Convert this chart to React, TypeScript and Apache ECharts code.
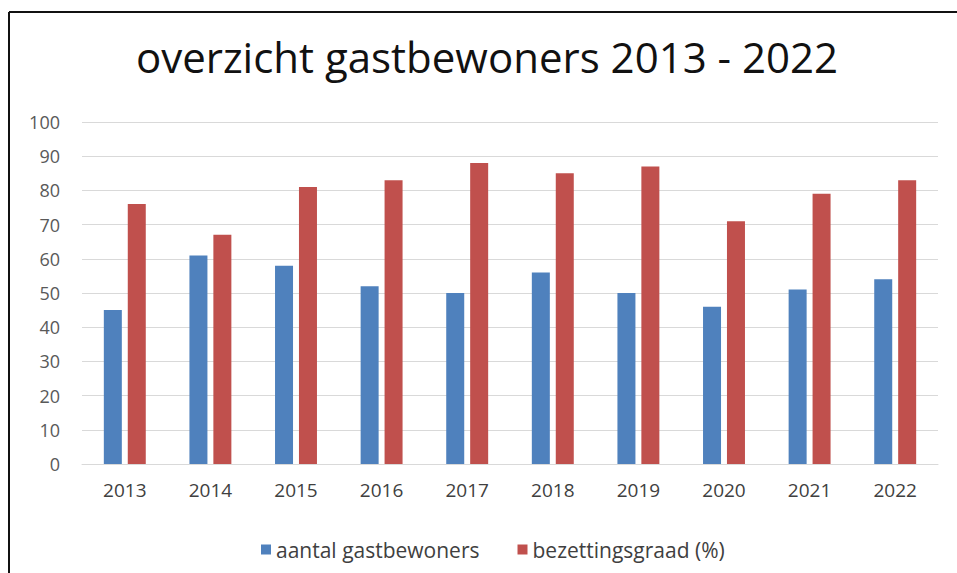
import React, { useEffect, useRef } from "react";
import * as echarts from "echarts";

const years = ["2013", "2014", "2015", "2016", "2017", "2018", "2019", "2020", "2021", "2022"];
const aantalGastbewoners = [45, 61, 58, 52, 50, 56, 50, 46, 51, 54];
const bezettingsgraad = [76, 67, 81, 83, 88, 85, 87, 71, 79, 83];
const titleText = "overzicht gastbewoners 2013 - 2022";
const seriesNames = ["aantal gastbewoners", "bezettingsgraad (%)"];

const FONT = "'Open Sans', sans-serif";

export default function App() {
  const ref = useRef<HTMLDivElement>(null);
  useEffect(() => {
    document.body.style.margin = "0";
    const chart = echarts.init(ref.current!, null, { renderer: "svg" });
    chart.setOption({
      animation: false,
      backgroundColor: "#ffffff",
      title: {
        text: titleText,
        left: 482,
        textAlign: "center",
        top: 30,
        textStyle: { fontFamily: FONT, fontSize: 42, fontWeight: "normal", color: "#111111" },
      },
      graphic: [
        { type: "line", shape: { x1: 9, y1: 12, x2: 957, y2: 12 }, style: { stroke: "#111", lineWidth: 2 } },
        { type: "line", shape: { x1: 9, y1: 12, x2: 9, y2: 573 }, style: { stroke: "#111", lineWidth: 2 } },
      ],
      legend: {
        left: 256,
        top: 534,
        itemWidth: 10,
        itemHeight: 10,
        itemGap: 38,
        icon: "rect",
        textStyle: { fontFamily: FONT, fontSize: 21, color: "#404040" },
        data: seriesNames,
      },
      grid: { left: 82, right: 19, top: 122, bottom: 109 },
      xAxis: {
        type: "category",
        data: years,
        axisLine: { lineStyle: { color: "#d9d9d9" } },
        axisTick: { show: false },
        axisLabel: { fontFamily: FONT, fontSize: 19, color: "#404040", margin: 16 },
      },
      yAxis: {
        type: "value",
        min: 0,
        max: 100,
        interval: 10,
        axisLine: { show: false },
        axisTick: { show: false },
        splitLine: { lineStyle: { color: "#d9d9d9" } },
        axisLabel: { fontFamily: FONT, fontSize: 18, color: "#595959", margin: 22 },
      },
      series: [
        {
          name: seriesNames[0],
          type: "bar",
          data: aantalGastbewoners,
          barWidth: 18,
          barGap: "33%",
          itemStyle: { color: "#4f81bd" },
        },
        {
          name: seriesNames[1],
          type: "bar",
          data: bezettingsgraad,
          barWidth: 18,
          itemStyle: { color: "#c0504d" },
        },
      ],
    });
    return () => chart.dispose();
  }, []);
  return <div ref={ref} style={{ width: 957, height: 573 }} />;
}
